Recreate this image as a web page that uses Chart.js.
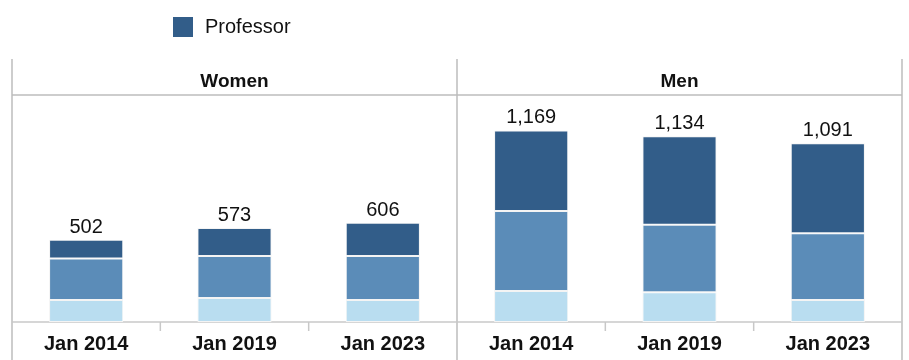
<!DOCTYPE html>
<html>
<head>
<meta charset="utf-8">
<script src="https://cdn.jsdelivr.net/npm/chart.js@4.4.1/dist/chart.umd.min.js"></script>
<style>
  body { margin: 0; background: #fff; font-family: "Liberation Sans", Arial, sans-serif; }
  #wrap { position: relative; width: 909px; height: 360px; }
  #legend { position: absolute; left: 173px; top: 15px; display: flex; align-items: center; font-size: 20px; color: #111; }
  #legend .box { width: 20px; height: 20px; background: #325d89; margin-right: 12px; }
</style>
</head>
<body>
<div id="wrap">
  <div id="legend"><span class="box"></span><span>Professor</span></div>
  <canvas id="chart"></canvas>
</div>
<script>
// headcount by snapshot date, split by gender
const groups = ['Women', 'Men'];
const dates = ['Jan 2014', 'Jan 2019', 'Jan 2023', 'Jan 2014', 'Jan 2019', 'Jan 2023'];
const groupSize = 3;

// stack order, bottom to top
const assistantProf = [134, 146, 134, 189, 182, 134];
const associateProf = [254, 256, 268, 489, 412, 408];
const professor = [114, 171, 204, 491, 540, 549];

const FONT = '"Liberation Sans", Arial, sans-serif';
const LINE = '#bdbdbd';

const totals = dates.map((d, i) => assistantProf[i] + associateProf[i] + professor[i]);

function boundary(x, i) {
  // pixel halfway between category i-1 and i
  return (x.getPixelForValue(i - 1) + x.getPixelForValue(i)) / 2;
}

const framePlugin = {
  id: 'frame',
  beforeDatasetsDraw(chart) {
    const ctx = chart.ctx;
    const area = chart.chartArea;
    const x = chart.scales.x;
    const top = 59, bottom = chart.height;
    ctx.save();
    ctx.strokeStyle = LINE;
    ctx.lineWidth = 1.5;

    // outer and group dividers
    const verticals = [area.left, area.right];
    for (let g = 1; g < groups.length; g++) verticals.push(boundary(x, g * groupSize));
    verticals.forEach(px => {
      ctx.beginPath();
      ctx.moveTo(px, top);
      ctx.lineTo(px, bottom);
      ctx.stroke();
    });

    // header separator
    ctx.beginPath();
    ctx.moveTo(area.left, area.top);
    ctx.lineTo(area.right, area.top);
    ctx.stroke();

    // baseline
    ctx.strokeStyle = '#c8c8c8';
    ctx.beginPath();
    ctx.moveTo(area.left, area.bottom);
    ctx.lineTo(area.right, area.bottom);
    ctx.stroke();

    // small ticks between dates inside a group
    for (let i = 1; i < dates.length; i++) {
      if (i % groupSize === 0) continue;
      const px = boundary(x, i);
      ctx.beginPath();
      ctx.moveTo(px, area.bottom);
      ctx.lineTo(px, area.bottom + 9);
      ctx.stroke();
    }

    // group headers
    ctx.fillStyle = '#111';
    ctx.font = 'bold 19px ' + FONT;
    ctx.textAlign = 'center';
    ctx.textBaseline = 'alphabetic';
    groups.forEach((name, g) => {
      const a = g === 0 ? area.left : boundary(x, g * groupSize);
      const b = g === groups.length - 1 ? area.right : boundary(x, (g + 1) * groupSize);
      ctx.fillText(name, (a + b) / 2, 87);
    });
    ctx.restore();
  },
  afterDatasetsDraw(chart) {
    // totals above each stack
    const ctx = chart.ctx;
    const meta = chart.getDatasetMeta(chart.data.datasets.length - 1);
    ctx.save();
    ctx.fillStyle = '#111';
    ctx.font = '20px ' + FONT;
    ctx.textAlign = 'center';
    ctx.textBaseline = 'alphabetic';
    meta.data.forEach((bar, i) => {
      ctx.fillText(totals[i].toLocaleString('en-US'), bar.x, bar.y - 7);
    });
    ctx.restore();
  }
};

const barStyle = {
  barPercentage: 0.5,
  categoryPercentage: 1,
  borderWidth: 1,
  borderColor: '#f4f4f4',
  borderSkipped: false
};

new Chart(document.getElementById('chart'), {
  type: 'bar',
  data: {
    labels: dates,
    datasets: [
      { label: 'Assistant Professor', data: assistantProf, backgroundColor: '#b9ddf0', ...barStyle },
      { label: 'Associate Professor', data: associateProf, backgroundColor: '#5b8cb8', ...barStyle },
      { label: 'Professor', data: professor, backgroundColor: '#325d89', ...barStyle }
    ]
  },
  options: {
    responsive: true,
    maintainAspectRatio: false,
    animation: false,
    layout: { padding: { top: 95, left: 12, right: 7, bottom: 0 } },
    plugins: {
      legend: { display: false },
      tooltip: { enabled: false }
    },
    scales: {
      x: {
        stacked: true,
        offset: true,
        grid: { display: false, drawTicks: false },
        border: { display: false },
        ticks: {
          autoSkip: false,
          maxRotation: 0,
          padding: 10,
          color: '#111',
          font: { family: FONT, size: 20, weight: 'bold' }
        },
        afterFit(axis) { axis.height = 38; }
      },
      y: {
        stacked: true,
        display: false,
        min: 0,
        max: 1385
      }
    }
  },
  plugins: [framePlugin]
});
</script>
</body>
</html>
